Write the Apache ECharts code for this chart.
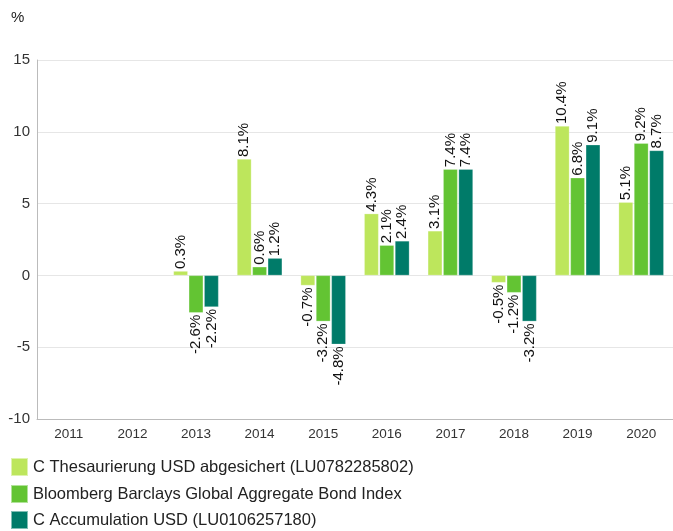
<!DOCTYPE html>
<html>
<head>
<meta charset="utf-8">
<script src="https://cdn.jsdelivr.net/npm/echarts@6/dist/echarts.min.js"></script>
<style>
  html, body { margin: 0; padding: 0; background: #fff; }
  #chart { width: 673px; height: 531px; }
</style>
</head>
<body>
<div id="chart"></div>
<script>
const years = ['2011', '2012', '2013', '2014', '2015', '2016', '2017', '2018', '2019', '2020']
const thesaurierung = [null, null, 0.3, 8.1, -0.7, 4.3, 3.1, -0.5, 10.4, 5.1]
const bloomberg = [null, null, -2.6, 0.6, -3.2, 2.1, 7.4, -1.2, 6.8, 9.2]
const accumulation = [null, null, -2.2, 1.2, -4.8, 2.4, 7.4, -3.2, 9.1, 8.7]
const seriesNames = [
  'C Thesaurierung USD abgesichert (LU0782285802)',
  'Bloomberg Barclays Global Aggregate Bond Index',
  'C Accumulation USD (LU0106257180)'
]
const colors = ['#bde65c', '#63c433', '#007b69']

const font = 'Arial, "Liberation Sans", sans-serif'

// negative bars get their label below the bar
function toItems (values) {
  return values.map(v => {
    if (v === null) return null
    if (v < 0) {
      return {
        value: v,
        label: { position: 'bottom', align: 'right' }
      }
    }
    return { value: v }
  })
}

function makeSeries (name, values, color) {
  return {
    name: name,
    type: 'bar',
    data: toItems(values),
    barGap: '7%',
    barCategoryGap: '29%',
    itemStyle: { color: color, borderColor: 'rgba(255,255,255,0.5)', borderWidth: 0.5 },
    label: {
      show: true,
      position: 'top',
      rotate: 90,
      align: 'left',
      verticalAlign: 'middle',
      distance: 2,
      fontFamily: font,
      fontSize: 15,
      color: '#111',
      formatter: p => p.value.toFixed(1) + '%'
    }
  }
}

// one legend per row so nothing wraps into a second column
function makeLegend (name, top) {
  return {
    orient: 'vertical',
    left: 10,
    top: top,
    padding: 0,
    itemWidth: 17,
    itemHeight: 18,
    icon: 'rect',
    textStyle: { fontSize: 16.5, fontFamily: font, color: '#222' },
    data: [name]
  }
}

let chart = echarts.init(document.getElementById('chart'))
let option = {
  animation: false,
  color: colors,
  graphic: [
    { type: 'text', left: 11, top: 10, style: { text: '%', fontSize: 15, fontFamily: font, fill: '#222' } }
  ],
  grid: { left: 37, right: 0, top: 60, bottom: 112 },
  legend: [
    makeLegend(seriesNames[0], 457),
    makeLegend(seriesNames[1], 484),
    makeLegend(seriesNames[2], 510)
  ],
  xAxis: {
    type: 'category',
    data: years,
    axisLine: { show: true, lineStyle: { color: '#bbb' }, onZero: false },
    axisTick: { show: false },
    axisLabel: { fontSize: 13.5, fontFamily: font, color: '#333', margin: 8 }
  },
  yAxis: {
    type: 'value',
    min: -10,
    max: 15,
    interval: 5,
    axisLine: { show: true, lineStyle: { color: '#bbb' } },
    axisTick: { show: false },
    splitLine: { lineStyle: { color: '#e6e6e6' } },
    axisLabel: { fontSize: 15, fontFamily: font, color: '#333', margin: 7 }
  },
  series: [
    makeSeries(seriesNames[0], thesaurierung, colors[0]),
    makeSeries(seriesNames[1], bloomberg, colors[1]),
    makeSeries(seriesNames[2], accumulation, colors[2])
  ]
}
chart.setOption(option)
</script>
</body>
</html>
